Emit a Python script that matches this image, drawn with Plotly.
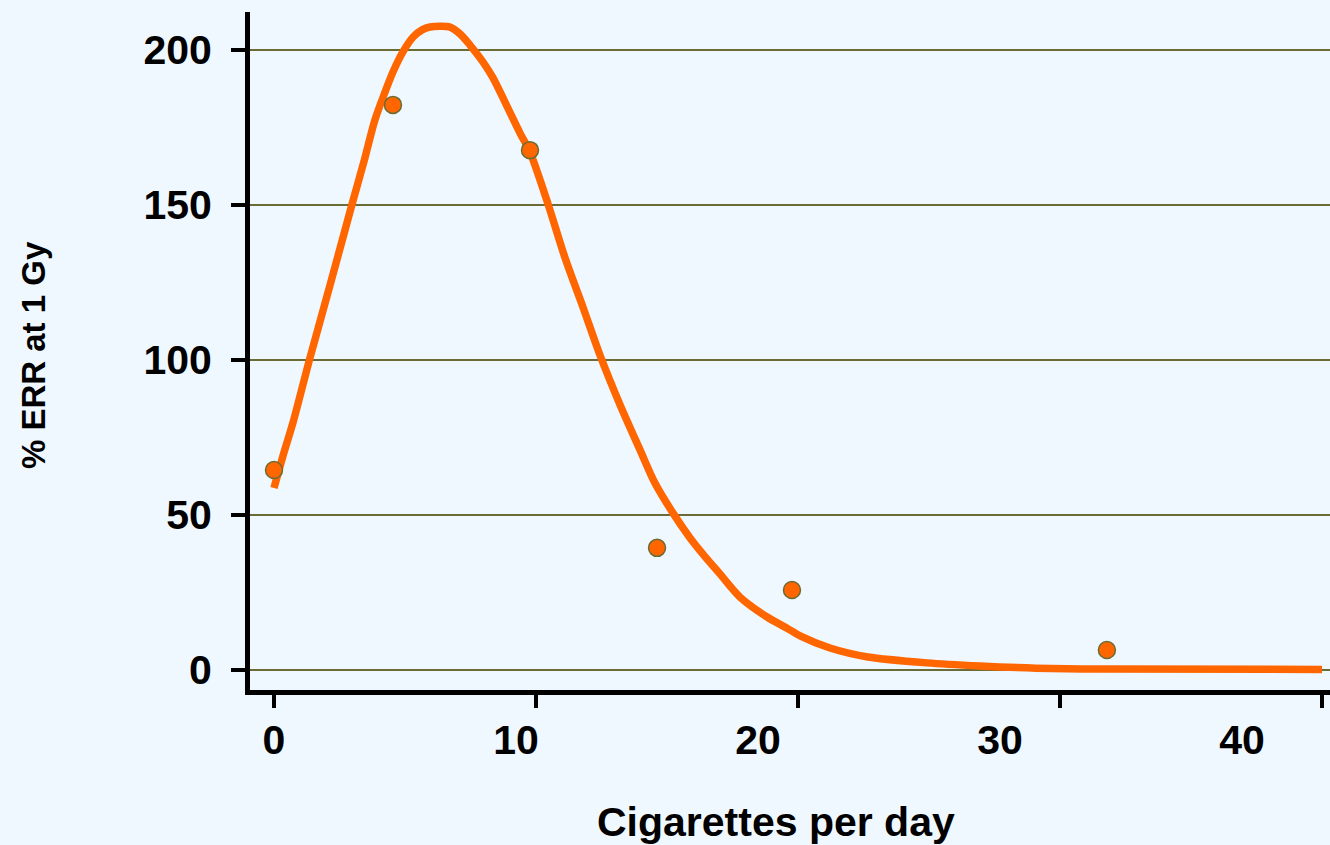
import plotly.graph_objects as go

# Fitted excess relative risk curve (% ERR at 1 Gy) against cigarettes per day
curve_x = [0, 0.34, 0.73, 1.37, 2.14, 2.98, 3.47, 3.85, 4.24, 4.54, 4.92, 5.31, 5.65,
           5.95, 6.72, 7.10, 7.48, 7.98, 8.36, 8.89, 9.39, 9.77, 10.46, 11.11, 11.79,
           12.44, 13.21, 13.97, 14.54, 15.23, 15.88, 16.37, 17.02, 17.79, 18.82, 19.58,
           20.08, 21.22, 22.67, 24.92, 26.95, 29.08, 31.53, 40.0]
curve_y = [58.7, 69.0, 80.0, 100.6, 124.2, 150.3, 165.2, 177.4, 186.5, 192.9, 199.4,
           204.2, 206.5, 207.4, 207.4, 205.2, 201.6, 196.1, 191.0, 181.9, 173.2, 167.1,
           150.3, 132.9, 117.1, 101.6, 85.5, 71.0, 60.3, 50.6, 42.6, 37.4, 31.0, 23.5,
           17.1, 13.5, 11.0, 7.1, 4.2, 2.3, 1.3, 0.6, 0.3, 0.2]

# Observed category estimates
point_x = [0, 4.54, 9.77, 14.62, 19.77, 31.79]
point_y = [64.5, 182.3, 167.7, 39.4, 25.8, 6.45]

x_ticks = [0, 10, 20, 30, 40]
x_tick_labels = ["0", "10", "20", "30", "40"]
y_ticks = [0, 50, 100, 150, 200]
y_tick_labels = ["0", "50", "100", "150", "200"]

ORANGE = "#FF6600"
OLIVE = "#6B6B35"
BG = "#F0F8FF"
FONT = "Liberation Sans, Arial, sans-serif"

fig = go.Figure()

fig.add_trace(go.Scatter(
    x=curve_x, y=curve_y, mode="lines",
    line=dict(color=ORANGE, width=7.5, shape="spline", smoothing=0.8),
    hoverinfo="skip", showlegend=False,
))

fig.add_trace(go.Scatter(
    x=point_x, y=point_y, mode="markers",
    marker=dict(color=ORANGE, size=17, line=dict(color=OLIVE, width=1.5)),
    showlegend=False,
))

# empty trace so the label-only axis gets its own subplot
fig.add_trace(go.Scatter(
    x=[], y=[], xaxis="x2", yaxis="y",
    hoverinfo="skip", showlegend=False,
))

fig.update_layout(
    width=1330, height=845,
    margin=dict(l=250, r=0, t=12, b=155),
    paper_bgcolor=BG, plot_bgcolor=BG,
    font=dict(family=FONT, color="black"),
    xaxis=dict(
        range=[-0.916, 40.305], tickvals=x_ticks, showticklabels=False,
        ticks="outside", ticklen=13, tickwidth=4, tickcolor="black",
        showline=True, linecolor="black", linewidth=5,
        showgrid=False, zeroline=False, fixedrange=True,
    ),
    # label-only axis carrying the category numbers beneath the plot
    xaxis2=dict(
        overlaying="x", anchor="y", side="bottom",
        range=[-0.992, 43.636], tickvals=x_ticks, ticktext=x_tick_labels,
        ticks="", showline=False, showgrid=False, zeroline=False,
        tickfont=dict(size=41, family=FONT, weight="bold", color="black"),
        ticklabelstandoff=22, fixedrange=True,
    ),
    yaxis=dict(
        range=[-6.452, 212.26], tickvals=y_ticks, ticktext=y_tick_labels,
        ticks="outside", ticklen=14, tickwidth=4, tickcolor="black",
        showline=True, linecolor="black", linewidth=5,
        showgrid=True, gridcolor=OLIVE, gridwidth=2, zeroline=False,
        tickfont=dict(size=41, family=FONT, weight="bold", color="black"),
        ticklabelstandoff=11, fixedrange=True,
    ),
    annotations=[
        dict(text="Cigarettes per day", xref="paper", yref="paper",
             x=0.487, y=-0.1947, xanchor="center", yanchor="middle",
             showarrow=False,
             font=dict(size=41, family=FONT, weight="bold", color="black")),
        dict(text="% ERR at 1 Gy", xref="paper", yref="paper",
             x=-0.2009, y=0.494, xanchor="center", yanchor="middle",
             textangle=-90, showarrow=False,
             font=dict(size=33, family=FONT, weight="bold", color="black")),
    ],
)

fig.write_html("out.html")
